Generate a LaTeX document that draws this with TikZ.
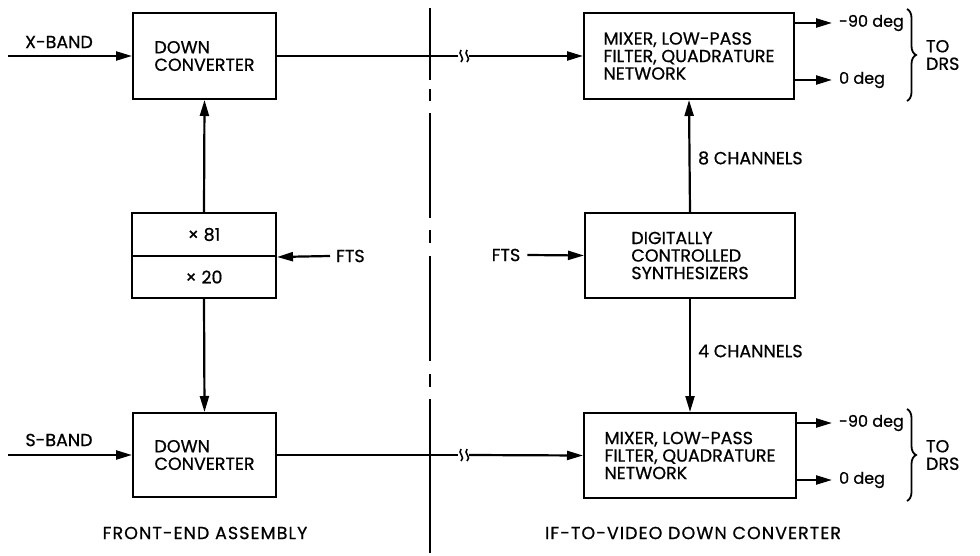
\documentclass[tikz,border=0pt]{standalone}
\usepackage{fontspec}
\setmainfont{Poppins}[FakeBold=0.7]
\usetikzlibrary{arrows.meta,decorations.pathreplacing}
\begin{document}
\begin{tikzpicture}[x=1pt,y=-1pt,
  line width=2.2pt,
  every node/.style={font=\fontsize{17.5}{17.5}\selectfont, inner sep=0pt},
  blk/.style={draw, line width=2pt, align=left},
  arr/.style={-{Triangle[length=16pt,width=9pt]}},
  lbl/.style={anchor=west, align=left},
  deglbl/.style={anchor=west, font=\fontsize{16}{16}\selectfont},
  sect/.style={font=\fontsize{17.5}{17.5}\addfontfeatures{LetterSpace=6}\selectfont},
  brc/.style={decorate, decoration={brace, amplitude=9pt}, line width=1.8pt}
]
\useasboundingbox (0,0) rectangle (980,556);

% boxes
\node[blk, minimum width=143pt, minimum height=86pt] (dc1) at (204.5,56) {DOWN\\CONVERTER};
\node[blk, minimum width=144pt, minimum height=43pt] (m81) at (204,234.5) {× 81};
\node[blk, minimum width=144pt, minimum height=42pt] (m20) at (204,277) {× 20};
\node[blk, minimum width=143pt, minimum height=84pt] (dc2) at (204.5,455) {DOWN\\CONVERTER};
\node[blk, minimum width=210pt, minimum height=86pt] (mix1) at (689,56) {MIXER, LOW-PASS\\FILTER, QUADRATURE\\NETWORK};
\node[blk, minimum width=210pt, minimum height=85pt] (syn) at (690,255.5) {DIGITALLY\\CONTROLLED\\SYNTHESIZERS};
\node[blk, minimum width=212pt, minimum height=85pt] (mix2) at (690,455.5) {MIXER, LOW-PASS\\FILTER, QUADRATURE\\NETWORK};

% inputs
\coordinate (xin) at (8,56);
\coordinate (sin) at (8,455);
\draw[arr] (xin) -- (dc1.west);
\draw[arr] (sin) -- (dc2.west);
\node (xlab) at (59,42) {X-BAND};
\node (slab) at (59,440) {S-BAND};

% multiplier links
\draw[arr] (m81.north) -- (dc1.south);
\draw[arr] (m20.south) -- (dc2.north);
\coordinate (ftsL) at (330,256);
\draw[arr] (ftsL) -- (m81.south east);
\node[lbl] (fts1) at (335,256) {FTS};

% synthesizer links
\node (fts2) at (506,255) {FTS};
\draw[arr] (fts2.east) ++(6,0) coordinate (ftsR) (ftsR) -- (syn.west);
\draw[arr] (syn.north) -- (mix1.south);
\draw[arr] (syn.south) -- (mix2.north);
\node[lbl] (ch8) at (697,158) {8 CHANNELS};
\node[lbl] (ch4) at (697,351) {4 CHANNELS};

% cross links with break marks
\coordinate (b1l) at (458,56);
\coordinate (b1r) at (469,56);
\coordinate (b2l) at (458,455);
\coordinate (b2r) at (469,455);
\draw (dc1.east) -- (b1l);
\draw[arr] (b1r) -- (mix1.west);
\draw (dc2.east) -- (b2l);
\draw[arr] (b2r) -- (mix2.west);
\foreach \y in {56,455}{
  \draw[line width=1.6pt] (461,\y-6) .. controls (457,\y-2) and (466,\y+2) .. (461,\y+6);
  \draw[line width=1.6pt] (467,\y-6) .. controls (463,\y-2) and (472,\y+2) .. (467,\y+6);
}

% outputs
\coordinate (o1a) at (832,23);
\coordinate (o1b) at (832,80);
\draw[arr] (mix1.east |- o1a) -- (o1a);
\draw[arr] (mix1.east |- o1b) -- (o1b);
\node[deglbl] (d1a) at (838,23) {-90 deg};
\node[deglbl] (d1b) at (838,80) {0 deg};
\draw[brc] (907,9) -- (907,101);
\node[lbl] (drs1) at (925,55) {TO\\DRS};

\coordinate (o2a) at (832,423);
\coordinate (o2b) at (832,480);
\draw[arr] (mix2.east |- o2a) -- (o2a);
\draw[arr] (mix2.east |- o2b) -- (o2b);
\node[deglbl] (d2a) at (838,423) {-90 deg};
\node[deglbl] (d2b) at (838,480) {0 deg};
\draw[brc] (907,409) -- (907,501);
\node[lbl] (drs2) at (925,455) {TO\\DRS};

% divider
\foreach \a/\b in {8/80, 89/101, 113/218, 230/243, 256/361, 374/387, 399/553}{
  \draw[line width=2pt] (430,\a) -- (430,\b);
}

% section labels
\node[sect] (fea) at (205,533) {FRONT-END ASSEMBLY};
\node[sect] (ifv) at (693,533) {IF-TO-VIDEO DOWN CONVERTER};
\end{tikzpicture}
\end{document}
